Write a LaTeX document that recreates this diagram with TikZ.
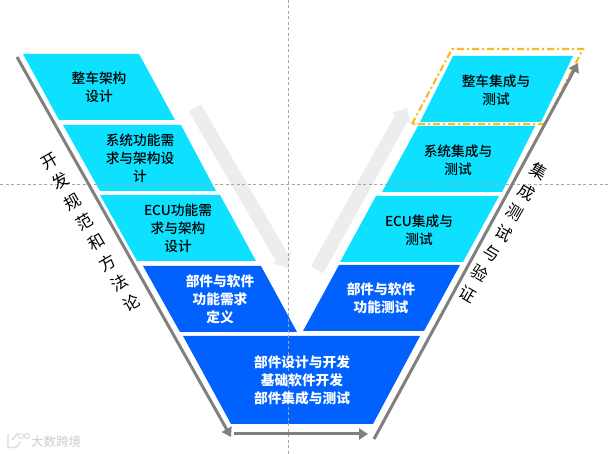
\documentclass[tikz,border=0pt]{standalone}
\usepackage{fontspec}
\setmainfont{Noto Sans CJK SC}
\newfontfamily\medfont{Noto Sans CJK SC Medium}
\usetikzlibrary{arrows.meta}
\definecolor{cyanbox}{HTML}{0DE1FF}
\definecolor{bluebox}{HTML}{0061FF}
\definecolor{linegray}{HTML}{808080}
\definecolor{softgray}{HTML}{EDEDED}
\definecolor{guide}{HTML}{A6A6A6}
\definecolor{dashor}{HTML}{F6BB1E}
\tikzset{
  guideline/.style={guide,line width=0.7pt,dash pattern=on 3pt off 2.5pt},
  cyanpar/.style={fill=cyanbox},
  bluepar/.style={fill=bluebox},
  darklabel/.style={font=\fontsize{13.7}{18}\selectfont\medfont,align=center,text=black,inner sep=0pt},
  whitelabel/.style={font=\fontsize{13.7}{18}\selectfont\bfseries,align=center,text=white,inner sep=0pt},
  sidelabel/.style={font=\fontsize{16.5}{23.5}\selectfont,align=center,text=black,inner sep=0pt},
  axisline/.style={draw=linegray,line width=3pt,-{Triangle[length=9pt,width=11pt]}},
  softarrow/.style={draw=softgray,line width=14pt,-{Triangle[length=12pt,width=21pt]}},
}
\begin{document}
\begin{tikzpicture}[x=1pt,y=-1pt]
\useasboundingbox (0,0) rectangle (611,454);
\fill[white] (0,0) rectangle (611,454);
% soft arrows
\coordinate (sa1) at (195,108); \coordinate (sb1) at (288,268);
\coordinate (sa2) at (317,270); \coordinate (sb2) at (407,108);
\draw[softarrow] (sa1) -- (sb1);
\draw[softarrow] (sa2) -- (sb2);
% left parallelograms
\fill[cyanpar] (23,54) -- (139,54) -- (175,120) -- (59,120) -- cycle;
\fill[cyanpar] (63,125) -- (181,125) -- (216,191) -- (100,191) -- cycle;
\fill[cyanpar] (100,195) -- (220,195) -- (256,261) -- (137,261) -- cycle;
\fill[bluepar] (143,266) -- (261,266) -- (297,332) -- (180,332) -- cycle;
\fill[bluepar] (183,336) -- (420,336) -- (373,424) -- (231,424) -- cycle;
% right parallelograms
\fill[cyanpar] (453,56) -- (573,56) -- (541,122) -- (420,122) -- cycle;
\fill[cyanpar] (418,126) -- (535,126) -- (502,192) -- (382,192) -- cycle;
\fill[cyanpar] (376,196) -- (499,196) -- (463,262) -- (340,262) -- cycle;
\fill[bluepar] (339,265) -- (460,265) -- (424,331) -- (303,331) -- cycle;
% guides
\coordinate (gv1) at (288,0); \coordinate (gv2) at (288,454);
\coordinate (gh1) at (0,184); \coordinate (gh2) at (611,184);
\draw[guideline] (gv1) -- (gv2);
\draw[guideline] (gh1) -- (gh2);
% dashed highlight
\draw[dashor,line width=2.1pt,dash pattern=on 7pt off 3pt on 2pt off 3pt] (412,124) -- (452,49) -- (583,49) -- (545,124) -- cycle;
% axes
\coordinate (l1) at (17,57); \coordinate (l2) at (231,437);
\coordinate (b1) at (234,434); \coordinate (b2) at (368,434);
\coordinate (r1) at (374,439); \coordinate (r2) at (578,63);
\draw[axisline] (l1) -- (l2);
\draw[axisline] (b1) -- (b2);
\draw[axisline] (r1) -- (r2);
% labels
\node[darklabel] (t1) at (99,87) {整车架构\\设计};
\node[darklabel] (t2) at (140,158) {系统功能需\\求与架构设\\计};
\node[darklabel] (t3) at (178,228) {ECU功能需\\求与架构\\设计};
\node[whitelabel] (t4) at (220,299) {部件与软件\\功能需求\\定义};
\node[whitelabel] (t5) at (302,380) {部件设计与开发\\基础软件开发\\部件集成与测试};
\node[darklabel] (t6) at (496,90) {整车集成与\\测试};
\node[darklabel] (t7) at (458,160) {系统集成与\\测试};
\node[darklabel] (t8) at (419,230) {ECU集成与\\测试};
\node[whitelabel] (t9) at (381,298) {部件与软件\\功能测试};
\node[sidelabel,rotate=30] (sl) at (90.5,232.5) {开\\发\\规\\范\\和\\方\\法\\论};
\node[sidelabel,rotate=-30] (sr) at (503.5,232.5) {集\\成\\测\\试\\与\\验\\证};
% watermark
\draw[black!14,line width=1.4pt] (8,434) -- (8,447) .. controls (14,449) and (19,447) .. (20,442) (12,440) -- (18,433);
\draw[black!14,line width=1pt] (21,436) circle (2.6) (27,436) circle (2.6);
\node[font=\fontsize{12.5}{14}\selectfont,text=black!20,inner sep=0pt] (wm) at (56,442) {大数跨境};
\end{tikzpicture}
\end{document}
